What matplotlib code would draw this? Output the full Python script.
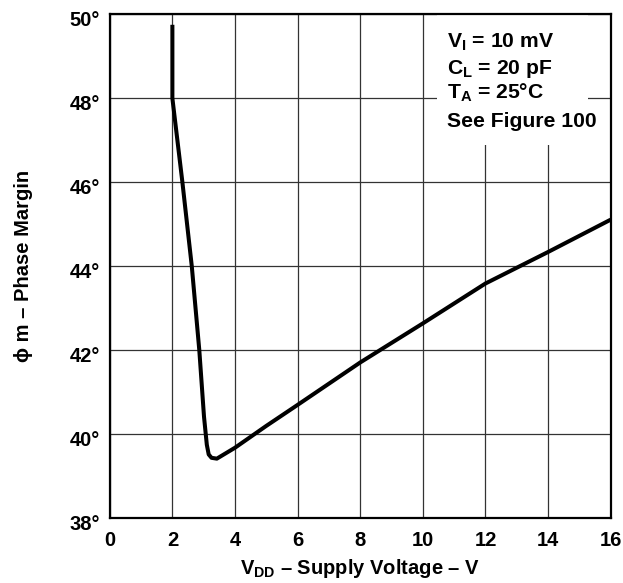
import matplotlib
matplotlib.use("Agg")
import matplotlib.pyplot as plt
import matplotlib.transforms as mtransforms
from matplotlib.patches import Rectangle

plt.rcParams['font.family'] = ['Liberation Sans', 'DejaVu Sans']
plt.rcParams['font.weight'] = 'bold'
plt.rcParams['mathtext.fontset'] = 'custom'
plt.rcParams['mathtext.rm'] = 'Liberation Sans:bold'
plt.rcParams['mathtext.it'] = 'Liberation Sans:bold'
plt.rcParams['mathtext.bf'] = 'Liberation Sans:bold'

# Data
vdd = [2.0, 2.0, 2.32, 2.62, 2.86, 3.01, 3.10, 3.16, 3.25, 3.42, 4.0, 5.0, 6.0, 8.0, 10.0, 12.0, 14.0, 16.0]
phase_margin = [49.75, 48.0, 46.0, 44.0, 42.0, 40.42, 39.75, 39.52, 39.44, 39.42, 39.68, 40.2, 40.70, 41.71, 42.64, 43.59, 44.34, 45.11]

x_ticks = [0, 2, 4, 6, 8, 10, 12, 14, 16]
y_ticks = [38, 40, 42, 44, 46, 48, 50]
y_tick_labels = ['38°', '40°', '42°', '44°', '46°', '48°', '50°']

conditions = ['V$_\\mathrm{I}$ = 10 mV', 'C$_\\mathrm{L}$ = 20 pF', 'T$_\\mathrm{A}$ = 25°C', 'See Figure 100']

fig = plt.figure(figsize=(6.23, 5.83), dpi=100)
ax = fig.add_axes([0.1762, 0.111, 0.804, 0.8645])

ax.plot(vdd, phase_margin, color='black', linewidth=2.9, solid_capstyle='butt',
        solid_joinstyle='round', zorder=3)

ax.set_xlim(0, 16)
ax.set_ylim(38, 50)
ax.set_xticks(x_ticks)
ax.set_xticklabels([str(t) for t in x_ticks])
ax.set_yticks(y_ticks)
ax.set_yticklabels(y_tick_labels)
ax.tick_params(axis='both', length=0, labelsize=14.5)
ax.tick_params(axis='x', pad=9)
ax.tick_params(axis='y', pad=7)
offset = mtransforms.ScaledTranslation(0, -3.0 / 72, fig.dpi_scale_trans)
for lab in ax.get_yticklabels():
    lab.set_transform(lab.get_transform() + offset)
for lab in ax.get_xticklabels() + ax.get_yticklabels():
    lab.set_fontweight('bold')

ax.set_axisbelow(True)
ax.grid(True, color='#333333', linewidth=0.9)
for sp in ax.spines.values():
    sp.set_linewidth(1.6)
    sp.set_color('black')

ax.add_patch(Rectangle((0.653, 0.7407), 0.302, 0.2593, transform=ax.transAxes,
                       facecolor='white', edgecolor='none', zorder=1))

ybase = [0.9336, 0.8820, 0.8318, 0.7754]
for s, yb in zip(conditions, ybase):
    ax.text(0.6735, yb, s, transform=ax.transAxes, fontsize=15.2, fontweight='bold',
            ha='left', va='baseline', zorder=4)

ax.set_xlabel('V$_\\mathrm{DD}$ – Supply Voltage – V', fontsize=14.5, fontweight='bold', labelpad=5)
ax.set_ylabel('ϕ m – Phase Margin', fontsize=14.5, fontweight='bold', labelpad=26)

fig.savefig('out.png', dpi=100)
